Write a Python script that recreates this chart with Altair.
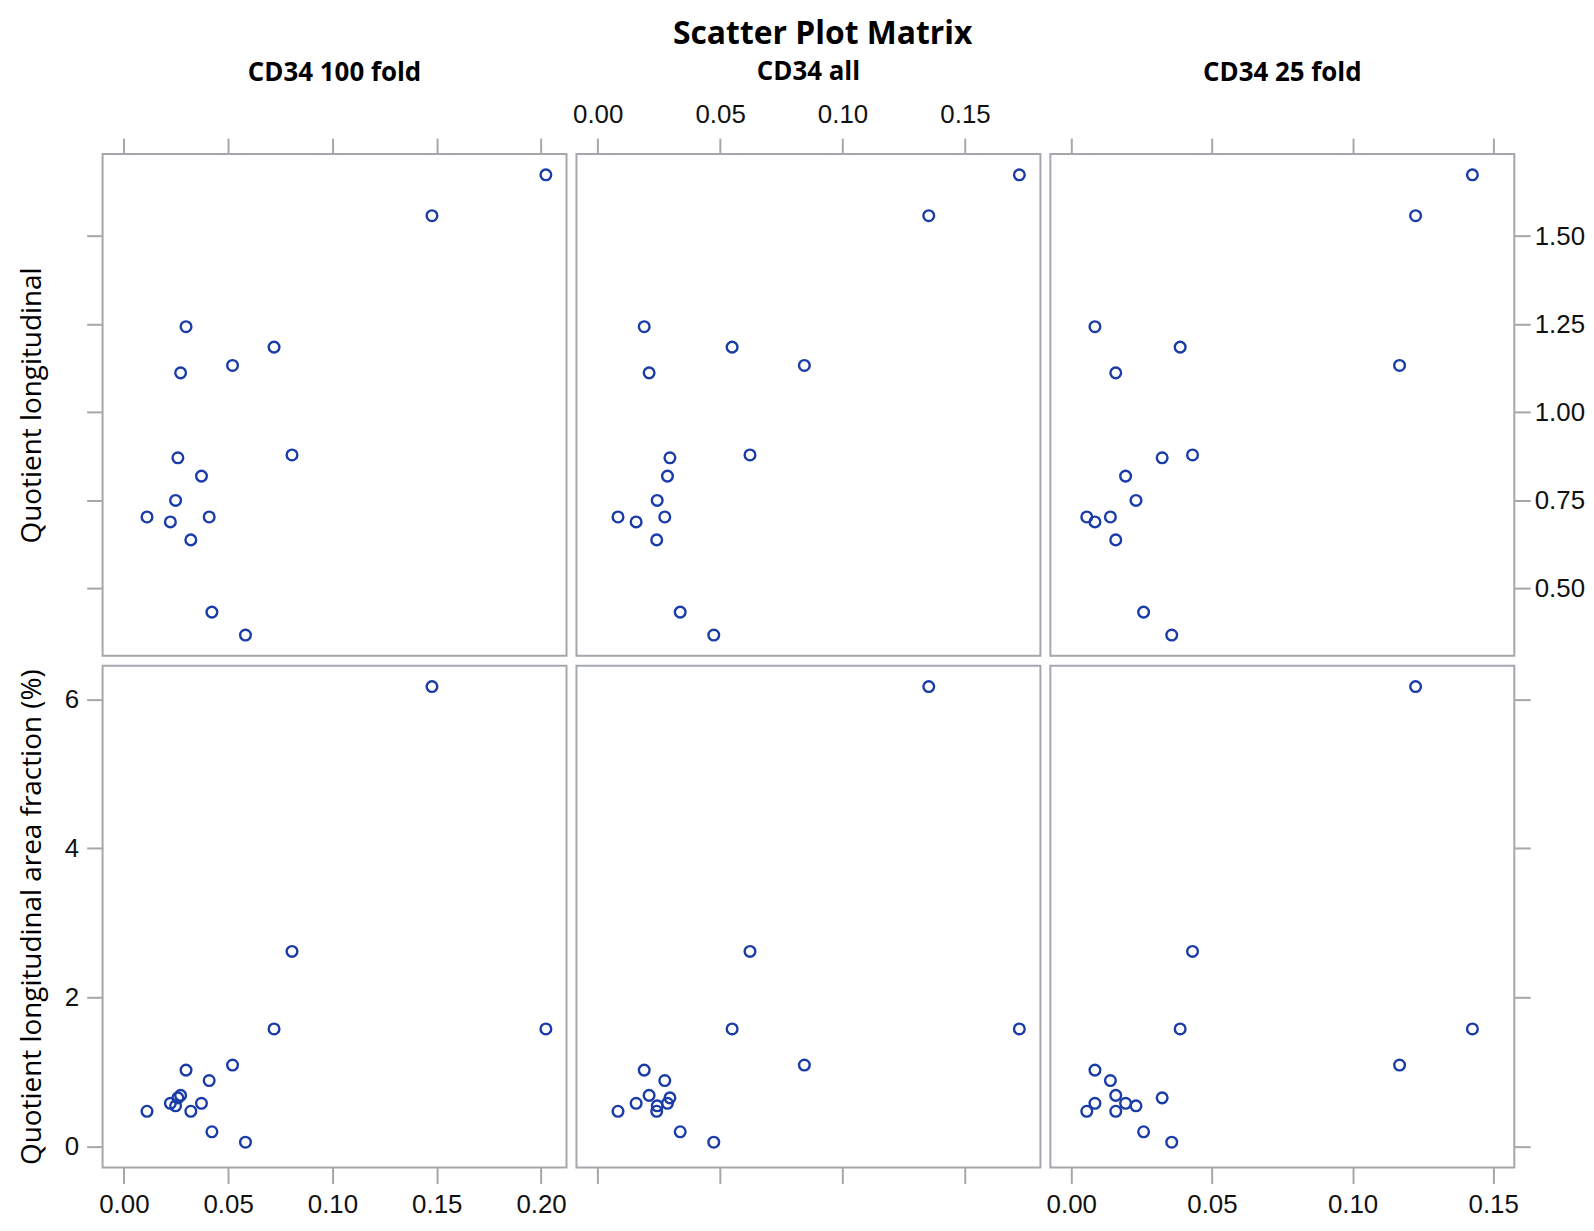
import altair as alt
import pandas as pd

# ---- data ----
cd34_100 = [0.2023, 0.1477, 0.0298, 0.0720, 0.0521, 0.0272, 0.0806, 0.0259,
            0.0372, 0.0248, 0.0111, 0.0409, 0.0223, 0.0321, 0.0422, 0.0583]
cd34_all = [0.1722, 0.1352, 0.0190, 0.0549, 0.0844, 0.0210, 0.0622, 0.0295,
            0.0285, 0.0243, 0.0083, 0.0274, 0.0157, 0.0241, 0.0337, 0.0474]
cd34_25 = [0.1426, 0.1224, 0.0084, 0.0387, 0.1167, 0.0158, 0.0431, 0.0323,
           0.0193, 0.0230, 0.0055, 0.0139, 0.0084, 0.0158, 0.0257, 0.0357]
q_long = [1.674, 1.558, 1.243, 1.185, 1.133, 1.112, 0.879, 0.871,
          0.819, 0.750, 0.703, 0.703, 0.689, 0.638, 0.433, 0.368]
q_area = [1.577, 6.170, 1.025, 1.577, 1.093, 0.686, 2.617, 0.653,
          0.580, 0.546, 0.473, 0.885, 0.580, 0.473, 0.198, 0.058]

col_fields = ["cd34_100", "cd34_all", "cd34_25"]
col_titles = ["CD34 100 fold", "CD34 all", "CD34 25 fold"]
col_domains = [[-0.0102, 0.2122], [-0.00866, 0.1808], [-0.00744, 0.1575]]
col_ticks = [[0.0, 0.05, 0.10, 0.15, 0.20], [0.0, 0.05, 0.10, 0.15], [0.0, 0.05, 0.10, 0.15]]

row_fields = ["q_long", "q_area"]
row_titles = ["Quotient longitudinal", "Quotient longitudinal area fraction (%)"]
row_domains = [[0.309, 1.733], [-0.282, 6.449]]
row_ticks = [[0.50, 0.75, 1.00, 1.25, 1.50], [0, 2, 4, 6]]
row_formats = [".2f", "d"]

df = pd.DataFrame({
    "cd34_100": cd34_100, "cd34_all": cd34_all, "cd34_25": cd34_25,
    "q_long": q_long, "q_area": q_area,
})

FRAME = "#a4a8ac"
POINT = "#1a3ca8"
LABEL_FONT = "Liberation Sans"
HEAD_FONT = "Open Sans"
LABEL_COLOR = "#111111"
W, H = 466, 504


def common_axis(**kw):
    base = dict(domain=False, grid=False, ticks=True, tickSize=16, tickWidth=2,
                tickColor=FRAME, labelFont=LABEL_FONT, labelFontSize=26,
                labelColor=LABEL_COLOR, labelPadding=8)
    base.update(kw)
    return alt.Axis(**base)


panels = []
for r in range(2):
    for c in range(3):
        if r == 0:
            xa = common_axis(orient="top", values=col_ticks[c], format=".2f",
                             labels=(c == 1), title=None, labelPadding=11)
        else:
            xa = common_axis(orient="bottom", values=col_ticks[c], format=".2f",
                             labels=(c != 1), title=None, labelPadding=8)
        if c == 0:
            ya = common_axis(orient="left", values=row_ticks[r], format=row_formats[r],
                             labels=(r == 1), title=row_titles[r],
                             titleFont=HEAD_FONT, titleFontSize=28, titleFontWeight="normal",
                             titleColor="black", titleAngle=270, titleX=-70, titleY=H / 2,
                             titleAlign="center", titleBaseline="middle")
        elif c == 2:
            ya = common_axis(orient="right", values=row_ticks[r], format=row_formats[r],
                             labels=(r == 0), title=None, labelPadding=4)
        else:
            ya = None

        props = dict(width=W, height=H)
        if r == 0:
            props["title"] = alt.TitleParams(
                col_titles[c], font=HEAD_FONT, fontSize=26, fontWeight="bold",
                color="black", anchor="middle", offset=(16 if c == 1 else 51))

        p = alt.Chart(df).mark_point(
            shape="circle", filled=False, size=115, strokeWidth=2.4,
            color=POINT, opacity=1,
        ).encode(
            x=alt.X(col_fields[c], type="quantitative",
                    scale=alt.Scale(domain=col_domains[c], nice=False, zero=False),
                    axis=xa),
            y=alt.Y(row_fields[r], type="quantitative",
                    scale=alt.Scale(domain=row_domains[r], nice=False, zero=False),
                    axis=ya),
        ).properties(**props)
        panels.append(p)

chart = alt.concat(*panels, columns=3, spacing=10, align="each", bounds="flush").properties(
    title=alt.TitleParams("Scatter Plot Matrix", font=HEAD_FONT, fontSize=32,
                          fontWeight="bold", color="black", anchor="middle",
                          offset=8, dx=21),
    padding={"top": 7, "left": 9, "right": 0, "bottom": 0},
).configure_view(
    stroke=FRAME, strokeWidth=2
)

chart.save("out.html", embed_options={"renderer": "svg", "actions": False})
